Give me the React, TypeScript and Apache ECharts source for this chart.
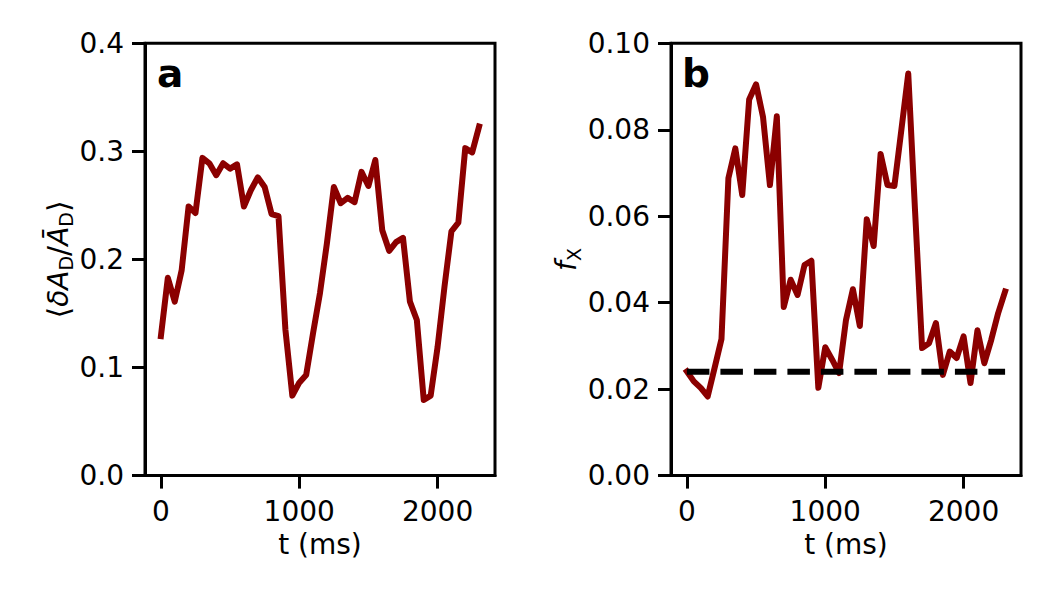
import React, { useEffect, useRef } from 'react';
import * as echarts from 'echarts';

const timesMs = [
  0, 50, 100, 150, 200, 250, 300, 350, 400, 450, 500, 550, 600, 650, 700, 750,
  800, 850, 900, 950, 1000, 1050, 1100, 1150, 1200, 1250, 1300, 1350, 1400,
  1450, 1500, 1550, 1600, 1650, 1700, 1750, 1800, 1850, 1900, 1950, 2000, 2050,
  2100, 2150, 2200, 2250, 2300,
];

const deltaARatio = [
  0.129, 0.183, 0.161, 0.19, 0.249, 0.243, 0.294, 0.289, 0.278, 0.289, 0.284,
  0.288, 0.249, 0.264, 0.276, 0.267, 0.242, 0.24, 0.135, 0.074, 0.086, 0.093,
  0.132, 0.169, 0.215, 0.267, 0.252, 0.257, 0.253, 0.281, 0.268, 0.292, 0.227,
  0.208, 0.216, 0.22, 0.161, 0.144, 0.07, 0.074, 0.119, 0.175, 0.226, 0.234,
  0.303, 0.299, 0.323,
];

const fX = [
  0.0241, 0.0218, 0.0203, 0.0183, 0.0249, 0.0316, 0.0688, 0.0757, 0.0649,
  0.087, 0.0905, 0.083, 0.0672, 0.0831, 0.039, 0.0453, 0.0418, 0.0487, 0.0497,
  0.0203, 0.0297, 0.0268, 0.0237, 0.036, 0.0431, 0.0346, 0.0593, 0.0531,
  0.0744, 0.0672, 0.067, 0.0799, 0.093, 0.0607, 0.0295, 0.0306, 0.0353, 0.0233,
  0.0287, 0.0272, 0.0322, 0.0214, 0.0336, 0.026, 0.0314, 0.0376, 0.0426,
];

const fXBaseline = 0.024;
const baselineSpan = [0, 2300];
const xTickValues = [0, 1000, 2000];
const xRange = [-115, 2415];
const yRangeA = [0, 0.4];
const yRangeB = [0, 0.1];
const yIntervalA = 0.1;
const yIntervalB = 0.02;

const FONT = 'DejaVu Sans';
const RED = '#8b0000';
const FS = 28;
const LW = 6;

export default function App() {
  const ref = useRef<HTMLDivElement>(null);

  useEffect(() => {
    document.body.style.margin = '0';
    if (!ref.current) return;
    const chart = echarts.init(ref.current, undefined, { renderer: 'svg' });

    const tickStyle = { color: '#000', width: 3 };
    const labelBase = { fontSize: FS, color: '#000', fontFamily: FONT };
    const spine = { show: true, onZero: false, lineStyle: { color: '#000', width: 3 } };

    const makeX = (gridIndex: number) => ({
      type: 'value',
      gridIndex,
      min: xRange[0],
      max: xRange[1],
      axisLine: spine,
      axisTick: {
        show: true,
        length: 13,
        lineStyle: tickStyle,
        customValues: xTickValues,
      },
      axisLabel: {
        ...labelBase,
        margin: 22,
        customValues: xTickValues,
        formatter: (v: number) => String(Math.round(v)),
      },
      splitLine: { show: false },
      name: 't (ms)',
      nameLocation: 'middle',
      nameGap: 45,
      nameTextStyle: { ...labelBase },
    });

    const rich = {
      n: { fontSize: FS + 2, fontFamily: FONT, color: '#000', lineHeight: 34 },
      it: { fontSize: FS, fontFamily: FONT, fontStyle: 'italic', color: '#000', lineHeight: 34 },
      sub: { fontSize: 19, fontFamily: FONT, color: '#000', lineHeight: 19, verticalAlign: 'bottom' },
    };

    const makeY = (gridIndex: number, range: number[], interval: number, digits: number, name: string, nameGap: number) => ({
      type: 'value',
      gridIndex,
      min: range[0],
      max: range[1],
      interval,
      axisLine: spine,
      axisTick: { show: true, length: 13, lineStyle: tickStyle },
      axisLabel: { ...labelBase, margin: 21, formatter: (v: number) => v.toFixed(digits) },
      splitLine: { show: false },
      name,
      nameLocation: 'middle',
      nameRotate: 90,
      nameGap,
      nameTextStyle: { ...labelBase, rich },
    });

    const option = {
      animation: false,
      backgroundColor: '#fff',
      grid: [
        { left: 145, top: 43.3, width: 350, height: 432.3, show: true, borderColor: '#000', borderWidth: 3, backgroundColor: 'transparent' },
        { left: 671, top: 43.3, width: 350, height: 432.3, show: true, borderColor: '#000', borderWidth: 3, backgroundColor: 'transparent' },
      ],
      xAxis: [makeX(0), makeX(1)],
      yAxis: [
        makeY(0, yRangeA, yIntervalA, 1, '{n|⟨}{it|δA}{sub|D}{n|/}{it|Ā}{sub|D}{n|⟩}', 68),
        makeY(1, yRangeB, yIntervalB, 2, '{it|f}{sub|X}', 86),
      ],
      series: [
        {
          type: 'line',
          xAxisIndex: 0,
          yAxisIndex: 0,
          data: timesMs.map((t, i) => [t, deltaARatio[i]]),
          showSymbol: false,
          lineStyle: { color: RED, width: LW, cap: 'square', join: 'round' },
          z: 3,
        },
        {
          type: 'line',
          xAxisIndex: 1,
          yAxisIndex: 1,
          data: timesMs.map((t, i) => [t, fX[i]]),
          showSymbol: false,
          lineStyle: { color: RED, width: LW, cap: 'square', join: 'round' },
          z: 3,
        },
        {
          type: 'line',
          xAxisIndex: 1,
          yAxisIndex: 1,
          data: baselineSpan.map((t) => [t, fXBaseline]),
          showSymbol: false,
          lineStyle: { color: '#000', width: LW, type: [22.5, 11], cap: 'butt' },
          z: 4,
        },
      ],
      graphic: [
        { type: 'text', x: 157, y: 73, style: { text: 'a', font: `bold 39px "${FONT}"`, fill: '#000', verticalAlign: 'middle' } },
        { type: 'text', x: 682, y: 73, style: { text: 'b', font: `bold 39px "${FONT}"`, fill: '#000', verticalAlign: 'middle' } },
      ],
    };

    chart.setOption(option as any);
    return () => chart.dispose();
  }, []);

  return <div ref={ref} style={{ width: 1062, height: 590 }} />;
}
